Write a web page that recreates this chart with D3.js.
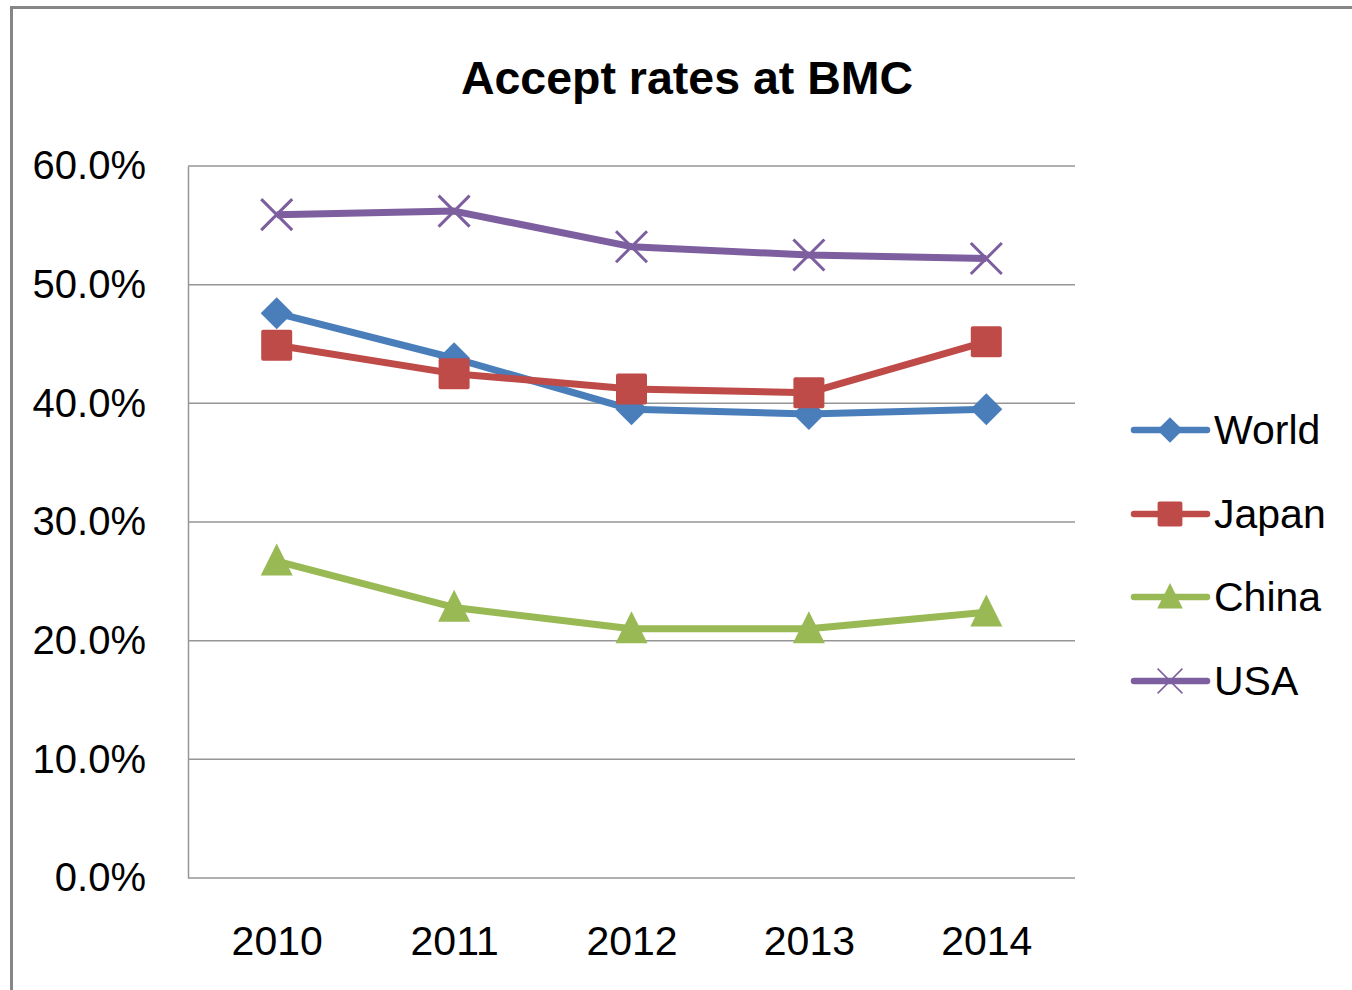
<!DOCTYPE html>
<html><head><meta charset="utf-8">
<script src="https://cdn.jsdelivr.net/npm/d3@7"></script>
<style>html,body{margin:0;padding:0;background:#fff;overflow:hidden;}svg{display:block;}</style>
</head><body>
<script>
const years = ["2010","2011","2012","2013","2014"];
const seriesNames = ["World","Japan","China","USA"];
const world = [47.6, 43.8, 39.5, 39.1, 39.5];
const japan = [44.9, 42.5, 41.2, 40.9, 45.2];
const china = [26.7, 22.8, 21.0, 21.0, 22.4];
const usa   = [55.9, 56.2, 53.2, 52.5, 52.2];
const yTicks = [0, 10, 20, 30, 40, 50, 60];
const colors = ["#4A7EBB", "#BE4B48", "#98B954", "#7D5FA0"];
const markers = ["diamond", "square", "triangle", "x"];
const values = [world, japan, china, usa];

const W = 1352, H = 990;
const svg = d3.select("body").append("svg").attr("width", W).attr("height", H);
const font = "'Liberation Sans Narrow', 'Liberation Sans', Arial, sans-serif";

// outer chart border
svg.append("rect").attr("x", 11.5).attr("y", 7.5).attr("width", W + 20).attr("height", H + 20)
  .attr("fill", "#fff").attr("stroke", "#868686").attr("stroke-width", 3);

const pLeft = 188, pRight = 1075, pTop = 166, pBottom = 878;
const x = d3.scalePoint().domain(years).range([pLeft, pRight]).padding(0.5);
const y = d3.scaleLinear().domain([0, 60]).range([pBottom, pTop]);

// gridlines
svg.append("g").selectAll("line").data(yTicks).join("line")
  .attr("x1", pLeft).attr("x2", pRight)
  .attr("y1", d => y(d)).attr("y2", d => y(d))
  .attr("stroke", "#969696").attr("stroke-width", 1.5);

// y axis
const yAxis = d3.axisLeft(y).tickValues(yTicks).tickFormat(d => d.toFixed(1) + "%").tickSize(0).tickPadding(42);
const ga = svg.append("g").attr("transform", `translate(${pLeft},0)`).call(yAxis);
ga.select(".domain").attr("stroke", "#969696").attr("stroke-width", 1.5);
ga.selectAll("text").attr("font-family", font).attr("font-size", 40).attr("fill", "#000");

// x axis
const xAxis = d3.axisBottom(x).tickSize(0).tickPadding(48);
const gx = svg.append("g").attr("transform", `translate(0,${pBottom})`).call(xAxis);
gx.select(".domain").remove();
gx.selectAll("text").attr("font-family", font).attr("font-size", 41).attr("fill", "#000");

// title
svg.append("text").attr("x", 687).attr("y", 94).attr("text-anchor", "middle")
  .attr("font-family", font).attr("font-weight", "bold").attr("font-size", 46.5)
  .text("Accept rates at BMC");

function drawMarker(g, type, cx, cy, color, s, xw) {
  if (type === "diamond") {
    const r = 16 * s;
    g.append("path").attr("d", `M${cx},${cy-r}L${cx+r},${cy}L${cx},${cy+r}L${cx-r},${cy}Z`).attr("fill", color);
  } else if (type === "square") {
    const r = 15.5 * s;
    g.append("rect").attr("x", cx-r).attr("y", cy-r).attr("width", 2*r).attr("height", 2*r).attr("rx", 2).attr("fill", color);
  } else if (type === "triangle") {
    const h = 32 * s, w = 32 * s;
    g.append("path").attr("d", `M${cx},${cy-h*0.55}L${cx+w/2},${cy+h*0.45}L${cx-w/2},${cy+h*0.45}Z`).attr("fill", color);
  } else {
    const r = 15.5 * s;
    g.append("path").attr("d", `M${cx-r},${cy-r}L${cx+r},${cy+r}M${cx-r},${cy+r}L${cx+r},${cy-r}`)
      .attr("stroke", color).attr("stroke-width", xw).attr("fill", "none");
  }
}

const line = d3.line().x((d, i) => x(years[i])).y(d => y(d));
values.forEach((vals, k) => {
  const g = svg.append("g");
  g.append("path").datum(vals).attr("d", line).attr("fill", "none")
    .attr("stroke", colors[k]).attr("stroke-width", 7).attr("stroke-linejoin", "round");
  vals.forEach((v, i) => drawMarker(g, markers[k], x(years[i]), y(v), colors[k], 1, 3));
});

// legend
const legY = [430, 514, 597, 681];
seriesNames.forEach((name, k) => {
  const g = svg.append("g");
  const cy = legY[k];
  g.append("line").attr("x1", 1134).attr("x2", 1207).attr("y1", cy).attr("y2", cy)
    .attr("stroke", colors[k]).attr("stroke-width", 6.5).attr("stroke-linecap", "round");
  drawMarker(g, markers[k], 1170, cy, colors[k], 0.8, 1.5);
  g.append("text").attr("x", 1214).attr("y", cy + 14).attr("font-family", font)
    .attr("font-size", 41).attr("fill", "#000").text(name);
});
</script>
</body></html>
